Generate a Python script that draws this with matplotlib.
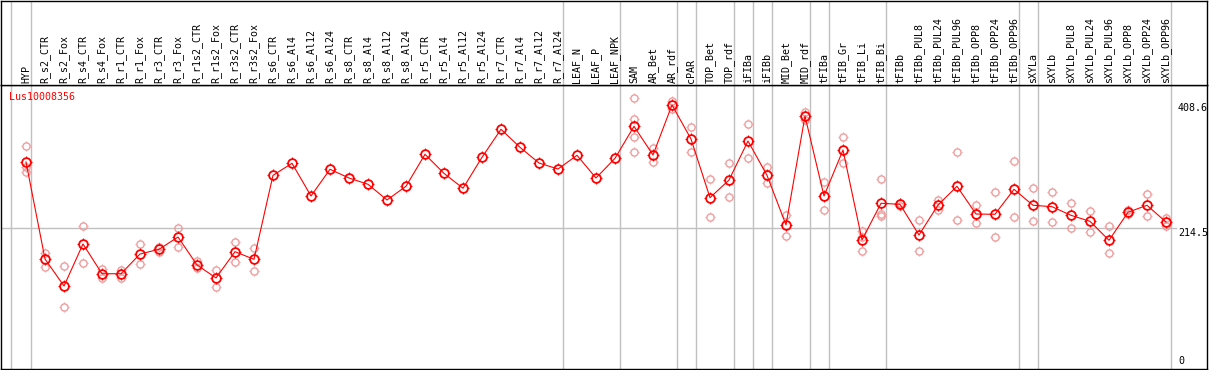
import matplotlib
matplotlib.use("Agg")
import matplotlib.pyplot as plt
from matplotlib.path import Path

gene = "Lus10008356"

samples = ["HYP", "R_s2_CTR", "R_s2_Fox", "R_s4_CTR", "R_s4_Fox", "R_r1_CTR", "R_r1_Fox",
           "R_r3_CTR", "R_r3_Fox", "R_r1s2_CTR", "R_r1s2_Fox", "R_r3s2_CTR", "R_r3s2_Fox",
           "R_s6_CTR", "R_s6_Al4", "R_s6_Al12", "R_s6_Al24", "R_s8_CTR", "R_s8_Al4",
           "R_s8_Al12", "R_s8_Al24", "R_r5_CTR", "R_r5_Al4", "R_r5_Al12", "R_r5_Al24",
           "R_r7_CTR", "R_r7_Al4", "R_r7_Al12", "R_r7_Al24", "LEAF_N", "LEAF_P", "LEAF_NPK",
           "SAM", "AR_Bet", "AR_rdf", "cPAR", "TOP_Bet", "TOP_rdf", "iFIBa", "iFIBb",
           "MID_Bet", "MID_rdf", "tFIBa", "tFIB_Gr", "tFIB_Li", "tFIB_Bi", "tFIBb",
           "tFIBb_PUL8", "tFIBb_PUL24", "tFIBb_PUL96", "tFIBb_OPP8", "tFIBb_OPP24",
           "tFIBb_OPP96", "sXYLa", "sXYLb", "sXYLb_PUL8", "sXYLb_PUL24", "sXYLb_PUL96",
           "sXYLb_OPP8", "sXYLb_OPP24", "sXYLb_OPP96"]

means = [317.4, 166.8, 124.8, 190.1, 143.9, 143.9, 174.5, 181.8, 200.9, 157.5, 137.3,
         178.1, 166.3, 296.7, 315.4, 264.6, 306.1, 292.5, 282.8, 258.4, 279.7, 329.3,
         299.8, 276.6, 324.7, 368.2, 340.2, 315.8, 306.5, 327.8, 292.5, 323.1, 372.8,
         328.3, 406.0, 353.1, 262.0, 289.4, 350.0, 296.7, 219.6, 388.8, 264.6, 336.0,
         196.3, 253.3, 251.7, 204.0, 250.6, 279.7, 236.6, 236.2, 275.0, 250.2, 248.0,
         234.6, 225.3, 195.8, 239.3, 250.2, 224.2]

replicates = [
    [342.2, 309.6, 301.9], [175.6, 154.8], [155.9, 92.7], [218.0, 160.1], [150.8, 137.3],
    [149.7, 137.3], [190.1, 159.0], [185.9, 177.6], [214.9, 184.9], [164.1, 152.3],
    [149.7, 123.8], [193.6, 161.6], [183.9, 147.7],
    [], [], [], [], [], [], [], [], [], [], [], [], [], [], [], [], [], [], [],
    [416.3, 384.2, 356.2, 332.5], [339.6, 316.9], [412.0, 400.0], [371.7, 332.5],
    [290.5, 232.0], [315.4, 263.0], [376.0, 323.1], [309.2, 284.3], [234.6, 202.5],
    [395.0, 382.6], [286.3, 242.4], [356.2, 316.3], [210.7, 201.4, 178.7],
    [291.0, 236.6, 233.5], [253.7, 249.8], [227.3, 178.7], [258.4, 242.9],
    [332.5, 227.3], [250.2, 222.2], [270.3, 200.5], [318.9, 231.5], [277.0, 225.3],
    [270.8, 223.8], [253.3, 214.9], [241.3, 208.2], [217.5, 175.6], [242.9, 235.9],
    [267.7, 233.1], [230.9, 217.5],
]

# last sample index of each group (separator drawn just after it)
group_ends = [0, 28, 31, 34, 35, 37, 38, 39, 41, 42, 45, 52, 53, 60]
y_labels = [0, 214.5, 408.6]

W, H = 1209, 370
fig = plt.figure(figsize=(W / 100, H / 100), dpi=100)

left, right = 1, 1207
top, bottom = 85, 369
ax = fig.add_axes([left / W, (H - bottom) / H, (right - left) / W, (bottom - top) / H])
hd = fig.add_axes([left / W, (H - top) / H, (right - left) / W, (top - 0.6) / H])

xlim = ((left - 26) / 19, (right - 26) / 19)
for a in (ax, hd):
    a.set_xlim(*xlim)
    a.set_xticks([])
    a.set_yticks([])
    for s in a.spines.values():
        s.set_color("black")
        s.set_linewidth(1.0)
    a.axvline(-0.79, color="#c0c0c0", lw=1.0, zorder=0)
    for g in group_ends:
        a.axvline(g + 0.25, color="#c0c0c0", lw=1.0, zorder=0)

ax.set_ylim((366.4 - bottom) / 0.644, (366.4 - top) / 0.644)
hd.set_ylim(0, top)

ax.plot([xlim[0], 60.5], [y_labels[1], y_labels[1]], color="#c0c0c0", lw=1.0, zorder=0)

# four little spikes around each circle
spikes = Path.make_compound_path(*[
    Path([(dx, dy), (dx * 1.45, dy * 1.45)], [Path.MOVETO, Path.LINETO])
    for dx, dy in [(0, 1), (0, -1), (1, 0), (-1, 0)]])


def spiky(xs, ys, size, color, mew, z):
    ax.plot(xs, ys, ls="none", marker="o", ms=size, mfc="none", mec=color, mew=mew, zorder=z)
    ax.plot(xs, ys, ls="none", marker=spikes, ms=size * 1.45, mfc="none", mec=color,
            mew=0.8, zorder=z)


for i, r in enumerate(replicates):
    if r:
        spiky([i] * len(r), r, 5.2, "#f09c9c", 1.0, 2)

x = list(range(len(samples)))
ax.plot(x, means, color="red", lw=0.8, zorder=3)
spiky(x, means, 6.3, "red", 1.3, 4)

mono = "DejaVu Sans Mono"
for i, s in enumerate(samples):
    hd.text(i, 2.5, s, rotation=90, ha="center", va="bottom", fontsize=7.2, family=mono)

fig.text(9 / W, 1 - 92 / H, gene, color="red", fontsize=7.2, family=mono, va="top")

lx = ax.get_xlim()[0] + (1178 - left) / 19
for v in y_labels:
    ax.text(lx, v, str(v) if v else "0", ha="left", va="bottom" if v == 0 else "top",
            fontsize=7.2, family=mono, color="black")

fig.savefig("out.png", dpi=100)
